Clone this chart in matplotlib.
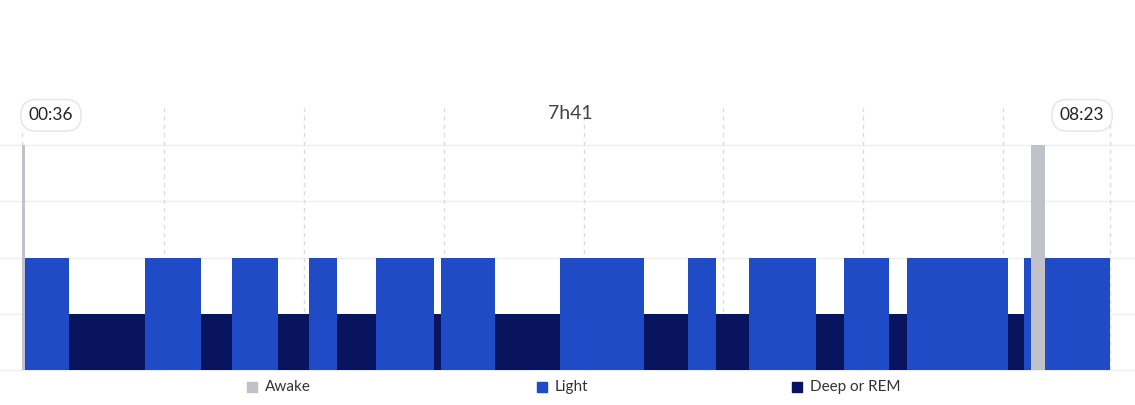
import matplotlib.pyplot as plt

# ---- data (minutes after midnight) ----
seg_start = [36, 37.5, 56, 89, 113, 126, 146, 159, 171, 188, 213, 216, 239,
             267, 303, 322, 334, 348, 377, 389, 408, 416, 459, 466, 469, 475]
seg_end = [37.5, 56, 89, 113, 126, 146, 159, 171, 188, 213, 216, 239, 267,
           303, 322, 334, 348, 377, 389, 408, 416, 459, 466, 469, 475, 503]
seg_stage = ["awake", "light", "deep", "light", "deep", "light", "deep", "light",
             "deep", "light", "deep", "light", "deep", "light", "deep", "light",
             "deep", "light", "deep", "light", "deep", "light", "deep", "light",
             "awake", "light"]
stage_names = ["Awake", "Light", "Deep or REM"]
stage_keys = ["awake", "light", "deep"]
stage_level = {"awake": 4, "light": 2, "deep": 1}
hour_marks = [97, 157, 217, 277, 337, 397, 457, 503]
start_label = "00:36"
end_label = "08:23"
total_label = "7h41"

colors = {"awake": "#c1c1c9", "light": "#1f4cc6", "deep": "#08145e"}

plt.rcParams['font.family'] = ['Lato', 'DejaVu Sans']

mpp = 0.4292  # minutes per pixel

fig = plt.figure(figsize=(11.35, 4.05), dpi=100)
ax = fig.add_axes([0, 0, 1, 1])
ax.set_xlim(26.56, 513.7)
ax.set_ylim(-0.62, 6.58)
ax.axis("off")

# horizontal grid
for y in range(0, 5):
    ax.axhline(y, color="#efefef", lw=1, zorder=0)

# dashed hour lines
for m in hour_marks:
    ax.plot([m, m], [0, 4.66], color="#dcdcdc", lw=1, ls=(0, (3, 3)), zorder=0)
ax.plot([36, 36], [4, 4.3], color="#dcdcdc", lw=1, ls=(0, (3, 3)), zorder=0)

# bars, deep first, awake last
for key in ["deep", "light", "awake"]:
    xs = [s for s, k in zip(seg_start, seg_stage) if k == key]
    ws = [e - s for s, e, k in zip(seg_start, seg_end, seg_stage) if k == key]
    ax.bar(xs, [stage_level[key]] * len(xs), width=ws, align="edge",
           color=colors[key], lw=0, zorder=3 if key == "awake" else 2)

# time labels
box = dict(boxstyle="round,pad=0.45,rounding_size=0.9", fc="white",
           ec="#e4e4e4", lw=1)
ax.text(36 + 29 * mpp, 4.53, start_label, ha="center", va="center",
        fontsize=12.5, color="#222222", bbox=box)
ax.text(503 - 28 * mpp, 4.53, end_label, ha="center", va="center",
        fontsize=12.5, color="#222222", bbox=box)
ax.text(36 + 548 * mpp, 4.57, total_label, ha="center", va="center",
        fontsize=14, color="#444444")

# legend
leg_x = [252, 542, 797]
for k, name, px in zip(stage_keys, stage_names, leg_x):
    xd = 36 + (px - 22) * mpp
    ax.scatter([xd], [-0.3], marker="s", s=55, color=colors[k], zorder=4)
    ax.text(xd + 6 * mpp + 2.8, -0.3, name, ha="left", va="center",
            fontsize=11, color="#333333")

fig.savefig("out.png", dpi=100)
